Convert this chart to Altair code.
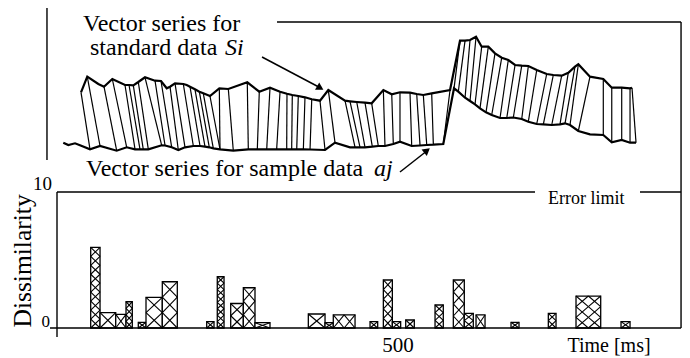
import altair as alt
import pandas as pd

# ---------------- data ----------------
# Vector series for standard data Si (time [ms], feature amplitude)
std_t = [35.2, 44.4, 60.6, 68.9, 81.1, 99.7, 105.6, 111.9, 119.2, 129.0, 143.7, 152.5, 160.9, 165.7, 173.0,
         185.2, 190.2, 195.0, 202.3, 208.7, 214.5, 224.3, 238.0, 251.2, 279.0, 296.6, 312.3, 327.0, 337.2, 345.0,
         353.8, 363.6, 373.5, 385.6, 397.8, 422.3, 429.6, 439.5, 451.6, 461.4, 478.5, 490.8, 502.9, 517.6, 527.4,
         537.1, 549.4, 576.3, 590.9, 598.3, 605.6, 614.4, 622.7, 632.4, 642.2, 652.1, 661.7, 671.6, 681.4, 691.1,
         703.4, 718.0, 727.7, 740.0, 749.7, 759.5, 764.4, 781.5, 801.0, 813.4, 828.0, 840.2, 843.1]
std_v = [6.77, 8.33, 7.6, 7.33, 8.1, 7.5, 7.5, 7.47, 7.8, 8.27, 7.93, 7.9, 7.17, 7.33, 7.67,
         7.6, 7.5, 7.33, 7.07, 6.83, 6.67, 6.4, 7.17, 7.1, 7.77, 6.83, 7.23, 6.83, 6.62, 6.5,
         6.4, 6.27, 6.07, 5.93, 7.0, 5.93, 5.87, 5.8, 5.73, 5.67, 7.0, 6.57, 6.77, 6.73, 6.6,
         6.5, 6.67, 7.0, 11.93, 11.93, 12.0, 12.33, 11.33, 11.33, 10.67, 10.23, 10.0, 9.5, 9.43, 9.4,
         9.0, 8.6, 8.5, 8.43, 8.73, 9.33, 9.57, 8.33, 8.1, 7.23, 7.23, 7.17, 7.23]

# Vector series for sample data aj
smp_t = [9.2, 16.6, 26.4, 33.7, 48.4, 63.1, 87.5, 102.2, 114.4, 121.7, 126.5, 133.9, 153.5, 158.4, 168.2,
         177.9, 187.7, 199.9, 209.7, 217.0, 223.3, 229.2, 239.0, 258.5, 280.5, 293.7, 307.5, 322.1, 336.8, 344.1,
         351.5, 361.2, 371.0, 393.0, 407.6, 429.6, 437.0, 444.3, 451.6, 462.3, 471.1, 480.9, 493.1, 502.9, 520.1,
         532.3, 542.1, 551.8, 566.4, 582.1, 588.4, 598.3, 605.6, 612.9, 620.2, 629.0, 637.4, 649.6, 659.4, 669.1,
         681.4, 691.1, 703.4, 713.1, 725.4, 737.5, 744.9, 752.2, 764.4, 781.5, 801.0, 813.4, 828.0, 840.2, 849.0]
smp_v = [1.73, 1.5, 1.67, 1.47, 1.07, 1.4, 0.93, 1.27, 1.07, 1.07, 1.07, 1.07, 1.47, 1.45, 1.27,
         1.0, 1.27, 1.4, 1.4, 1.33, 1.27, 1.17, 1.07, 0.93, 1.07, 1.07, 1.07, 1.07, 1.07, 1.07,
         1.07, 1.07, 1.05, 1.0, 1.73, 1.27, 1.27, 1.27, 1.27, 1.33, 1.4, 1.4, 1.6, 1.83, 1.4,
         1.45, 1.5, 1.53, 1.6, 7.17, 6.83, 6.23, 5.9, 5.57, 5.17, 4.77, 4.5, 4.2, 4.2, 4.25,
         4.1, 3.83, 3.6, 3.57, 3.5, 3.57, 3.67, 3.5, 2.9, 2.57, 2.5, 1.77, 2.0, 1.73, 1.73]

# matching path (time of standard vector -> time of sample vector)
path_std = [35.2, 44.4, 68.9, 81.1, 99.7, 105.6, 111.9, 119.2, 129.0, 143.7, 152.5, 165.7, 173.0, 185.2, 195.0,
            202.3, 208.7, 214.5, 224.3, 238.0, 251.2, 279.0, 296.6, 312.3, 327.0, 337.2, 345.0, 353.8, 363.6, 373.5,
            385.6, 397.8, 422.3, 429.6, 439.5, 451.6, 461.4, 478.5, 490.8, 502.9, 517.6, 527.4, 537.1, 549.4, 576.3,
            590.9, 598.3, 605.6, 614.4, 622.7, 632.4, 642.2, 652.1, 661.7, 671.6, 681.4, 691.1, 703.4, 718.0, 727.7,
            740.0, 749.7, 759.5, 764.4, 781.5, 801.0, 813.4, 828.0, 840.2, 843.1]
path_smp = [48.4, 63.1, 87.5, 102.2, 114.4, 121.7, 126.5, 133.9, 153.5, 158.4, 168.2, 177.9, 187.7, 199.9, 209.7,
            217.0, 223.3, 229.2, 239.0, 239.0, 258.5, 280.5, 293.7, 307.5, 322.1, 336.8, 344.1, 351.5, 361.2, 371.0,
            393.0, 407.6, 437.0, 444.3, 451.6, 462.3, 471.1, 480.9, 493.1, 502.9, 520.1, 532.3, 542.1, 551.8, 566.4,
            582.1, 588.4, 598.3, 605.6, 612.9, 620.2, 629.0, 637.4, 649.6, 659.4, 669.1, 681.4, 691.1, 703.4, 713.1,
            725.4, 737.5, 744.9, 752.2, 764.4, 801.0, 813.4, 828.0, 840.2, 849.0]

# dissimilarity bars (start ms, end ms, value)
bar_start = [49.4, 63.1, 86.1, 101.2, 119.2, 130.5, 154.4, 219.5, 235.0, 254.7, 273.2, 290.3, 368.5, 393.0,
             405.1, 459.0, 478.5, 491.7, 511.3, 554.3, 581.1, 597.2, 614.4, 665.7, 720.4, 761.0, 827.0]
bar_end = [63.1, 86.1, 101.2, 110.4, 130.5, 154.4, 176.4, 230.2, 244.9, 273.2, 290.3, 312.3, 393.0, 405.1,
           437.0, 470.2, 491.7, 503.9, 523.9, 566.4, 597.2, 610.4, 627.6, 677.4, 731.7, 797.2, 840.2]
bar_val = [5.93, 1.13, 1.0, 1.93, 0.42, 2.25, 3.4, 0.47, 3.77, 1.8, 2.96, 0.39, 1.03, 0.39,
           0.96, 0.47, 3.53, 0.47, 0.59, 1.69, 3.53, 1.08, 0.96, 0.42, 1.08, 2.35, 0.47]

error_limit = 10
x_tick = 500

# ---------------- layout ----------------
W, H = 674, 350
X_DOM = [-71.85, 916.4]
TOP_DOM = [-19.8, 15.2]
BOT_DOM = [-2.2059, 23.5294]
FONT = "'Liberation Serif', 'Times New Roman', 'DejaVu Serif', serif"

xs = alt.Scale(domain=X_DOM, nice=False, zero=False)
yst = alt.Scale(domain=TOP_DOM, nice=False, zero=False)
ysb = alt.Scale(domain=BOT_DOM, nice=False, zero=False)


def X(f):
    return alt.X(f, type="quantitative", scale=xs, axis=None)


def YT(f):
    return alt.Y(f, type="quantitative", scale=yst, axis=None)


def YB(f):
    return alt.Y(f, type="quantitative", scale=ysb, axis=None)


std_df = pd.DataFrame({"t": std_t, "v": std_v, "i": range(len(std_t))})
smp_df = pd.DataFrame({"t": smp_t, "v": smp_v, "i": range(len(smp_t))})


def nearest(ts, vs, q):
    k = min(range(len(ts)), key=lambda n: abs(ts[n] - q))
    return ts[k], vs[k]


links = []
for a, b in zip(path_std, path_smp):
    ta, va = nearest(std_t, std_v, a)
    tb, vb = nearest(smp_t, smp_v, b)
    links.append({"t": ta, "v": va, "t2": tb, "v2": vb})
link_df = pd.DataFrame(links)

bar_df = pd.DataFrame({"s": bar_start, "e": bar_end, "d": bar_val})

PX_MS = W / (X_DOM[1] - X_DOM[0])
PX_D = H / (BOT_DOM[1] - BOT_DOM[0])
hatch = []
for s, e, v in zip(bar_start, bar_end, bar_val):
    wpx = (e - s) * PX_MS
    hpx = v * PX_D
    nc = max(1, round(wpx / 13))
    cw = (e - s) / nc
    nr = max(1, round(hpx / (wpx / nc)))
    ch = v / nr
    for i in range(nc):
        for j in range(nr):
            x0, x1 = s + i * cw, s + (i + 1) * cw
            y0, y1 = j * ch, (j + 1) * ch
            hatch.append({"t": x0, "d": y0, "t2": x1, "d2": y1})
            hatch.append({"t": x1, "d": y0, "t2": x0, "d2": y1})
hatch_df = pd.DataFrame(hatch)

# ---------------- layers ----------------
links_layer = alt.Chart(link_df).mark_rule(color="black", strokeWidth=1.2).encode(
    x=X("t"), y=YT("v"), x2="t2", y2="v2")
std_layer = alt.Chart(std_df).mark_line(color="black", strokeWidth=2.2).encode(
    x=X("t"), y=YT("v"), order="i:Q")
smp_layer = alt.Chart(smp_df).mark_line(color="black", strokeWidth=2.2).encode(
    x=X("t"), y=YT("v"), order="i:Q")

frame_top = alt.Chart(pd.DataFrame({
    "t": [-14.7, 322.6, 915.0], "v": [15.3, 13.8, 13.8],
    "t2": [-14.7, 915.0, 915.0], "v2": [0.0, 13.8, -16.8]})).mark_rule(
    color="black", strokeWidth=1.4).encode(x=X("t"), y=YT("v"), x2="t2", y2="v2")

bars_layer = alt.Chart(bar_df).mark_rect(fill="white", stroke="black", strokeWidth=1.3).encode(
    x=X("s"), x2="e", y=YB("d"), y2=alt.Y2(datum=0))
hatch_layer = alt.Chart(hatch_df).mark_rule(color="black", strokeWidth=1.1).encode(
    x=X("t"), y=YB("d"), x2="t2", y2="d2")

frame_bot = alt.Chart(pd.DataFrame({
    "t": [0, 0, 854.8, -10.3], "d": [error_limit, error_limit, error_limit, 0],
    "t2": [0, 700.9, 915.0, 915.0], "d2": [-0.66, error_limit, error_limit, 0]})).mark_rule(
    color="black", strokeWidth=1.4).encode(x=X("t"), y=YB("d"), x2="t2", y2="d2")

# arrows
arrow_df = pd.DataFrame({"t": [300.6, 502.9], "v": [10.3, -1.2], "t2": [388.0, 545.0], "v2": [7.15, 1.05]})
arrow_lines = alt.Chart(arrow_df).mark_rule(color="black", strokeWidth=1.5).encode(
    x=X("t"), y=YT("v"), x2="t2", y2="v2")
head_df = pd.DataFrame({"t": [386.0, 542.5], "v": [7.2, 0.95], "a": [30, 321]})
arrow_heads = alt.Chart(head_df).mark_point(shape="triangle-right", filled=True, color="black",
                                            size=70, opacity=1).encode(
    x=X("t"), y=YT("v"), angle=alt.Angle("a:Q", scale=None))

# texts
txt_reg = pd.DataFrame({"t": [38.1, 48.4, 42.5], "v": [12.9, 10.5, -1.6],
                        "s": ["Vector series for", "standard data", "Vector series for sample data"]})
txt_it = pd.DataFrame({"t": [246.3, 464.8], "v": [10.5, -1.6], "s": ["Si", "aj"]})
t_reg = alt.Chart(txt_reg).mark_text(font=FONT, fontSize=24, align="left", baseline="alphabetic",
                                     color="black").encode(x=X("t"), y=YT("v"), text="s:N")
t_it = alt.Chart(txt_it).mark_text(font=FONT, fontSize=24, fontStyle="italic", align="left",
                                   baseline="alphabetic", color="black").encode(x=X("t"), y=YT("v"), text="s:N")

t_err = alt.Chart(pd.DataFrame({"t": [720.0], "d": [9.12], "s": ["Error limit"]})).mark_text(
    font=FONT, fontSize=18, align="left", baseline="alphabetic", color="black").encode(
    x=X("t"), y=YB("d"), text="s:N")
t_ylab = alt.Chart(pd.DataFrame({"t": [-7.3, -10.3], "d": [10.15, 0.07],
                                 "s": [str(error_limit), "0"], "f": [19, 17]})).mark_text(
    font=FONT, align="right", baseline="alphabetic", color="black").encode(
    x=X("t"), y=YB("d"), text="s:N", size=alt.Size("f:Q", scale=None))
t_xlab = alt.Chart(pd.DataFrame({"t": [float(x_tick), 809.4], "d": [-1.76, -1.76],
                                 "s": [str(x_tick), "Time [ms]"], "f": [21, 20]})).mark_text(
    font=FONT, align="center", baseline="alphabetic", color="black").encode(
    x=X("t"), y=YB("d"), text="s:N", size=alt.Size("f:Q", scale=None))
t_ytitle = alt.Chart(pd.DataFrame({"t": [-49.9], "d": [4.93], "s": ["Dissimilarity"]})).mark_text(
    font=FONT, fontSize=25.5, angle=270, align="center", baseline="middle", color="black").encode(
    x=X("t"), y=YB("d"), text="s:N")

chart = alt.layer(
    links_layer, std_layer, smp_layer, frame_top, arrow_lines, arrow_heads, t_reg, t_it,
    bars_layer, hatch_layer, frame_bot, t_err, t_ylab, t_xlab, t_ytitle
).resolve_scale(y="independent").properties(
    width=W, height=H, padding=0, autosize=alt.AutoSizeParams(type="none"), background="white"
).configure_view(stroke=None)

chart.save("out.html", embed_options={"renderer": "svg", "actions": False})
